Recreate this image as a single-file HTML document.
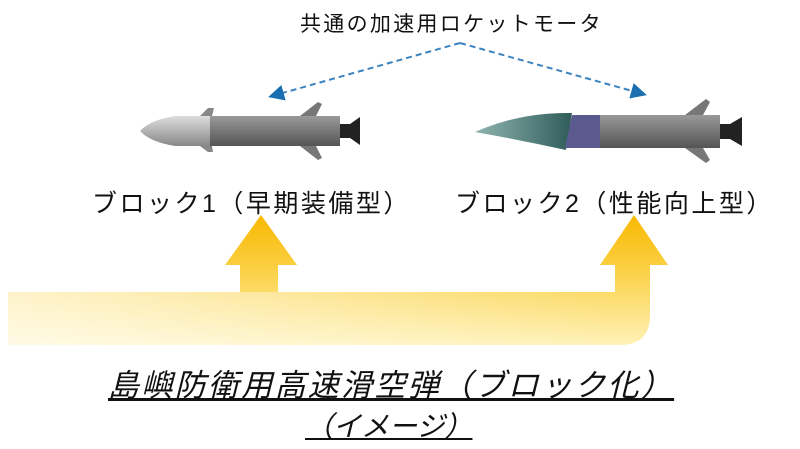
<!DOCTYPE html><html><head><meta charset="utf-8"><style>
body{margin:0;width:800px;height:449px;background:#fff;overflow:hidden;position:relative;font-family:"Liberation Sans","Noto Sans CJK JP",sans-serif}
.t{position:absolute;white-space:nowrap;color:#111}
</style></head><body>
<svg width="800" height="449" style="position:absolute;left:0;top:0">
<defs>
<linearGradient id="y" gradientUnits="userSpaceOnUse" x1="0" y1="215" x2="0" y2="345"><stop offset="0" stop-color="#f8b800"/><stop offset="0.45" stop-color="#fbd24a"/><stop offset="1" stop-color="#fff2b8"/></linearGradient>
<linearGradient id="w" gradientUnits="userSpaceOnUse" x1="8" y1="0" x2="620" y2="0"><stop offset="0" stop-color="#fff" stop-opacity="0.65"/><stop offset="1" stop-color="#fff" stop-opacity="0"/></linearGradient>
<linearGradient id="b" x1="0" y1="0" x2="0" y2="1"><stop offset="0" stop-color="#999"/><stop offset="0.5" stop-color="#777"/><stop offset="1" stop-color="#555"/></linearGradient>
<linearGradient id="n" x1="0" y1="0" x2="0" y2="1"><stop offset="0" stop-color="#ddd"/><stop offset="1" stop-color="#888"/></linearGradient>
<linearGradient id="g" x1="0" y1="0" x2="1" y2="0"><stop offset="0" stop-color="#8fb5b0"/><stop offset="1" stop-color="#2f5c5a"/></linearGradient>
<marker id="a" markerWidth="8" markerHeight="8" refX="6" refY="4" orient="auto"><path d="M0,0L8,4L0,8z" fill="#1a6fb0"/></marker>
</defs>
<path d="M8,292H240V265H225L261,215L297,265H278V292H615V265H600L634,215L668,265H650V315Q650,345 620,345H8Z" fill="url(#y)"/>
<rect x="8" y="292" width="600" height="53" fill="url(#w)"/>
<path d="M460,43L272,96" stroke="#3b84c0" stroke-width="2" stroke-dasharray="6,4" fill="none" marker-end="url(#a)"/>
<path d="M460,43L643,94" stroke="#3b84c0" stroke-width="2" stroke-dasharray="6,4" fill="none" marker-end="url(#a)"/>
<path d="M200,116L208,108L214,108L212,116Z M200,146L208,152L213,152L212,146Z" fill="#888"/>
<path d="M300,116L318,102L322,104L316,116Z M300,146L318,160L322,158L316,146Z" fill="#777"/>
<path d="M210,116H175Q150,120 140,131Q150,142 175,146H210Z" fill="url(#n)"/>
<rect x="210" y="116" width="130" height="30" fill="url(#b)"/>
<path d="M340,124L350,124L360,117V145L350,138H340Z" fill="#222"/>
<path d="M685,115L706,99L710,102L703,115Z M685,148L706,163L710,160L703,148Z" fill="#777"/>
<path d="M475,132Q520,112 572,113L566,150Q520,140 475,132Z" fill="url(#g)"/>
<path d="M572,115H600V148H565Z" fill="#5b5a8e"/>
<rect x="600" y="115" width="120" height="33" fill="url(#b)"/>
<path d="M720,124L730,124L742,117V146L730,139H720Z" fill="#222"/>
</svg>
<div class="t" style="left:300px;top:8px;font-size:21px;letter-spacing:2.3px">共通の加速用ロケットモータ</div>
<div class="t" style="left:92px;top:184px;font-size:25px;letter-spacing:2.5px">ブロック1（早期装備型）</div>
<div class="t" style="left:455px;top:184px;font-size:25px;letter-spacing:2.5px">ブロック2（性能向上型）</div>
<div class="t" style="left:108px;top:360px;font-size:31px;letter-spacing:2.3px;font-style:italic;text-decoration:underline">島嶼防衛用高速滑空弾（ブロック化）</div>
<div class="t" style="left:305px;top:405px;font-size:28px;font-style:italic;text-decoration:underline">（イメージ）</div>
</body></html>
